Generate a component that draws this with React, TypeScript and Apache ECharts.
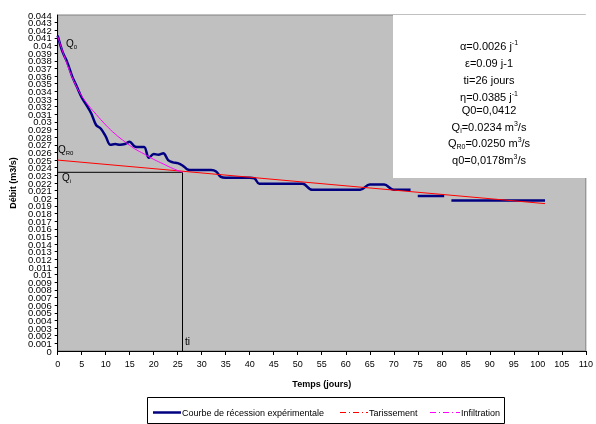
import React, { useEffect, useRef } from "react";
import * as echarts from "echarts";

// Courbe de récession expérimentale (jours, m3/s) — three segments (gaps in the record)
const expSeg1: [number, number][] = [
  [0, 0.0413], [1, 0.0392], [2, 0.0378], [3, 0.036], [4, 0.0346], [5, 0.0332],
  [6, 0.0322], [7, 0.0311], [8, 0.0296], [9, 0.0291], [10, 0.0281], [11, 0.027],
  [12, 0.0271], [13, 0.027], [14, 0.0271], [15, 0.0274], [16, 0.0268], [17, 0.0267],
  [18, 0.0267], [19, 0.0253], [20, 0.0258], [21, 0.0257], [22, 0.0259], [23, 0.025],
  [24, 0.0247], [25, 0.0246], [26, 0.0243], [27, 0.0238], [28, 0.0237], [32, 0.0237],
  [33, 0.0235], [34, 0.0228], [35, 0.0227], [40, 0.0227], [41, 0.0226], [42, 0.0219],
  [51, 0.0219], [53, 0.0211], [63, 0.0211], [65, 0.0218], [68, 0.0218], [70, 0.0211],
  [73.5, 0.0211],
];
const expSeg2: [number, number][] = [[75, 0.0203], [80.5, 0.0203]];
const expSeg3: [number, number][] = [[82, 0.0197], [101.5, 0.0197]];

// Tarissement (red)
const tarissement: [number, number][] = [[0, 0.025], [101.5, 0.0193]];

// Infiltration (magenta)
const infiltration: [number, number][] = [
  [0, 0.0412], [2, 0.0375], [4, 0.0345], [6, 0.0325], [8, 0.031], [10, 0.0296],
  [12, 0.0284], [14, 0.0274], [16, 0.0265], [18, 0.0258], [20, 0.0251], [22, 0.0245],
  [24, 0.0239], [26, 0.0234],
];

const Qi = 0.0234;
const ti = 26;

const yMin = 0;
const yMax = 0.044;
const yStep = 0.001;

const seriesNames = ["Courbe de récession expérimentale", "Tarissement", "Infiltration"];
const seriesColors = ["#000080", "#FF0000", "#FF00FF"];

const paramLines = [
  "{n|α=0.0026 j}{sup|-1}",
  "{n|ε=0.09 j-1}",
  "{n|ti=26 jours}",
  "{n|η=0.0385 j}{sup|-1}",
  "{n|Q0=0,0412}",
  "{n|Q}{sub|i}{n|=0.0234 m}{sup|3}{n|/s}",
  "{n|Q}{sub|R0}{n|=0.0250 m}{sup|3}{n|/s}",
  "{n|q0=0,0178m}{sup|3}{n|/s}",
];
const paramY = [46, 63, 80, 97, 110, 127, 143, 160];

const FONT = "'Liberation Sans', Arial, sans-serif";

export default function App() {
  const ref = useRef<HTMLDivElement>(null);
  useEffect(() => {
    if (!ref.current) return;
    const chart = echarts.init(ref.current, null, { renderer: "svg" });
    const rich = {
      n: { fontSize: 11, lineHeight: 14, fontFamily: FONT, color: "#000" },
      sup: { fontSize: 7, lineHeight: 8, verticalAlign: "top", fontFamily: FONT, color: "#000" },
      sub: { fontSize: 7, lineHeight: 8, verticalAlign: "bottom", fontFamily: FONT, color: "#000" },
    };
    const richSmall = {
      n: { fontSize: 10, lineHeight: 13, fontFamily: FONT, color: "#000" },
      sub: { fontSize: 6, lineHeight: 7, verticalAlign: "bottom", fontFamily: FONT, color: "#000" },
    };
    const lbl = (text: string, x: number, y: number) => ({
      type: "text",
      x,
      y,
      style: { text, rich: richSmall, align: "left", verticalAlign: "middle", fill: "#000" },
      z: 100,
    });
    const fmt = (v: number) => String(+v.toFixed(3));
    // legend drawn as graphic (line samples + labels)
    const legendY = 412.5;
    const legendItems = [
      { x1: 153, x2: 181, dash: null as number[] | null, w: 2.5 },
      { x1: 340, x2: 368, dash: [6, 3, 1, 3], w: 1 },
      { x1: 430, x2: 460, dash: [6, 3, 1, 3], w: 1 },
    ];
    const legendGraphics: any[] = [
      {
        type: "rect",
        shape: { x: 147.5, y: 397.5, width: 357, height: 26 },
        style: { fill: "#FFFFFF", stroke: "#000", lineWidth: 1 },
        z: 100,
      },
    ];
    legendItems.forEach((it, i) => {
      legendGraphics.push({
        type: "line",
        shape: { x1: it.x1, y1: legendY, x2: it.x2, y2: legendY },
        style: { stroke: seriesColors[i], lineWidth: it.w, lineDash: it.dash || undefined },
        z: 101,
      });
      legendGraphics.push({
        type: "text",
        x: it.x2 + 1,
        y: legendY,
        style: {
          text: seriesNames[i], fill: "#000", fontSize: 9, fontFamily: FONT,
          align: "left", verticalAlign: "middle",
        },
        z: 101,
      });
    });
    const yLabelBase = { fontSize: 9.5, color: "#000", margin: 6, fontFamily: FONT };
    chart.setOption({
      animation: false,
      textStyle: { fontFamily: FONT },
      grid: {
        left: 56, right: 4, top: 15, bottom: 73,
        show: true, backgroundColor: "#C0C0C0", borderColor: "#808080", borderWidth: 1,
      },
      xAxis: {
        type: "value",
        min: 0, max: 110, interval: 5,
        name: "Temps (jours)",
        nameLocation: "middle",
        nameGap: 28,
        nameTextStyle: { fontSize: 9, fontWeight: "bold", color: "#000", fontFamily: FONT },
        axisLine: { show: true, onZero: false, lineStyle: { color: "#000", width: 1 } },
        axisTick: { show: true, length: 4, lineStyle: { color: "#000" } },
        axisLabel: { fontSize: 9, color: "#000", margin: 8, fontFamily: FONT, showMaxLabel: true },
        splitLine: { show: false },
      },
      yAxis: [
        {
          type: "value",
          position: "left",
          min: yMin, max: yMax, interval: yStep,
          name: "Débit (m3/s)",
          nameLocation: "middle",
          nameGap: 38,
          nameRotate: 90,
          nameTextStyle: { fontSize: 9, fontWeight: "bold", color: "#000", fontFamily: FONT },
          axisLine: { show: true, lineStyle: { color: "#000", width: 1 } },
          axisTick: { show: true, length: 3, lineStyle: { color: "#000" } },
          axisLabel: { ...yLabelBase, showMinLabel: false, showMaxLabel: false, formatter: fmt },
          splitLine: { show: false },
        },
        {
          // carries only the end labels (0 and 0.044)
          type: "value",
          position: "left",
          min: yMin, max: yMax, interval: yStep,
          axisLine: { show: false },
          axisTick: { show: false },
          axisLabel: {
            ...yLabelBase,
            showMinLabel: true, showMaxLabel: true,
            formatter: (v: number) =>
              Math.abs(v - yMin) < 1e-9 || Math.abs(v - yMax) < 1e-9 ? fmt(v) : "",
          },
          splitLine: { show: false },
        },
      ],
      series: [
        {
          name: "__guides",
          type: "line",
          data: [[0, Qi], [ti, Qi], [ti, 0]],
          symbol: "none",
          lineStyle: { color: "#000", width: 1 },
          silent: true,
          z: 1,
        },
        ...[expSeg1, expSeg2, expSeg3].map((d) => ({
          name: seriesNames[0],
          type: "line",
          data: d,
          symbol: "none",
          smooth: 0.35,
          color: seriesColors[0],
          lineStyle: { color: seriesColors[0], width: 2.5 },
          z: 2,
        })),
        {
          name: seriesNames[1],
          type: "line",
          data: tarissement,
          symbol: "none",
          color: seriesColors[1],
          lineStyle: { color: seriesColors[1], width: 1 },
          z: 3,
        },
        {
          name: seriesNames[2],
          type: "line",
          data: infiltration,
          symbol: "none",
          smooth: 0.4,
          color: seriesColors[2],
          lineStyle: { color: seriesColors[2], width: 1 },
          z: 3,
        },
      ],
      graphic: [
        {
          type: "rect",
          shape: { x: 393, y: 15, width: 199, height: 163 },
          style: { fill: "#FFFFFF" },
          z: 50,
        },
        ...paramLines.map((t, i) => ({
          type: "text",
          x: 489,
          y: paramY[i],
          style: { text: t, rich, align: "center", verticalAlign: "middle", fill: "#000" },
          z: 60,
        })),
        lbl("{n|Q}{sub|0}", 66, 43),
        lbl("{n|Q}{sub|R0}", 58, 149),
        lbl("{n|Q}{sub|i}", 62, 177),
        lbl("{n|ti}", 185, 341),
        ...legendGraphics,
      ],
    });
    return () => chart.dispose();
  }, []);
  return (
    <div
      ref={ref}
      style={{ position: "fixed", left: 0, top: 0, width: 596, height: 424 }}
    />
  );
}
